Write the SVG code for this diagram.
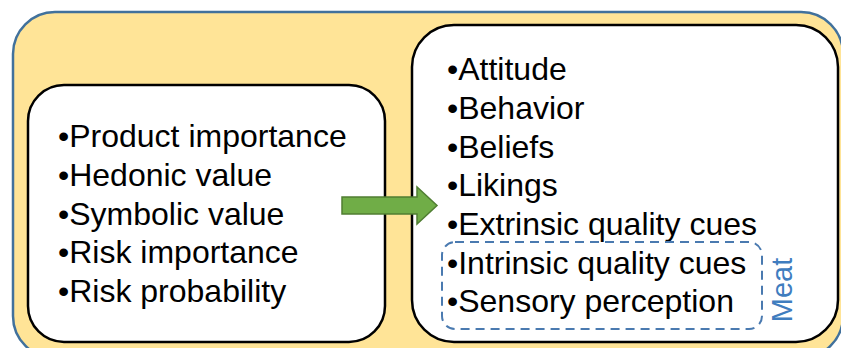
<svg xmlns="http://www.w3.org/2000/svg" width="841" height="348" viewBox="0 0 841 348">
<style>
.t{font-family:"Liberation Sans",Arial,sans-serif;font-size:32px;fill:#000}
.box{fill:#fff;stroke:#000;stroke-width:2.5}
</style>
<rect width="841" height="348" fill="#fff"/>
<g id="outer">
<rect x="13" y="12" width="830" height="346" rx="42" fill="#ffe497" stroke="#41719c" stroke-width="2.5"/>
</g>
<g id="left">
<rect class="box" x="28" y="85" width="357" height="257" rx="36"/>
<text class="t" x="58" y="147">•Product importance</text>
<text class="t" x="58" y="186">•Hedonic value</text>
<text class="t" x="58" y="224.5">•Symbolic value</text>
<text class="t" x="58" y="263">•Risk importance</text>
<text class="t" x="58" y="302">•Risk probability</text>
</g>
<g id="right">
<rect class="box" x="412" y="25" width="426" height="317" rx="42"/>
<text class="t" x="447" y="80">•Attitude</text>
<text class="t" x="447" y="119">•Behavior</text>
<text class="t" x="447" y="157.5">•Beliefs</text>
<text class="t" x="447" y="196">•Likings</text>
<text class="t" x="447" y="235">•Extrinsic quality cues</text>
</g>
<g id="meat">
<rect x="442" y="242" width="320" height="87" rx="13" fill="none" stroke="#4a7ab0" stroke-width="2" stroke-dasharray="9 6"/>
<text class="t" x="447" y="273.5">•Intrinsic quality cues</text>
<text class="t" x="447" y="312">•Sensory perception</text>
<text x="0" y="0" transform="translate(792 290) rotate(-90)" text-anchor="middle" style="font-family:'Liberation Sans',Arial,sans-serif;font-size:29px;fill:#3f7dbf">Meat</text>
</g>
<g id="connectors">
<polygon points="342,197 417,197 417,187 437,205.5 417,224 417,214 342,214" fill="#70ad47" stroke="#507e32" stroke-width="1.5"/>
</g>
</svg>
